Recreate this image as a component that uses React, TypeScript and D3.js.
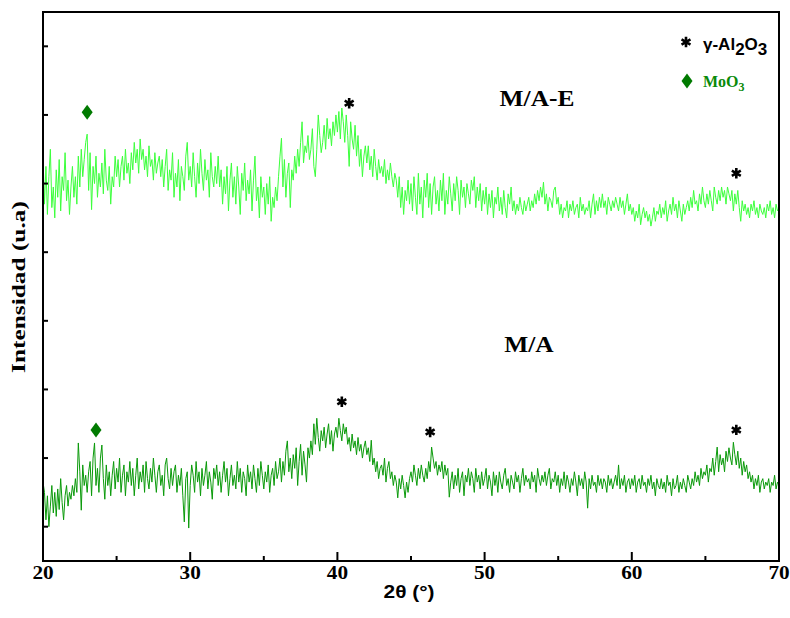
import React from "react";
import * as d3 from "d3";

// 2θ grid: 20.0 → 70.0 step 0.1
const thetaStart = 20;
const thetaStep = 0.1;

// M/A-E (upper trace), arbitrary intensity units
const maeValues: number[] = [
  590, 520, 575, 505, 560, 600, 515, 545, 500, 570,
  530, 585, 510, 560, 540, 595, 525, 555, 505, 545,
  575, 530, 560, 520, 590, 545, 600, 560, 585, 610,
  622, 540, 595, 512, 575, 550, 590, 530, 565, 545,
  580, 535, 600, 555, 540, 575, 520, 560, 545, 590,
  560, 585, 545, 575, 590, 555, 600, 565, 580, 550,
  595, 570, 610, 580, 600, 565, 615, 585, 600, 570,
  590, 560, 605, 575, 585, 555, 595, 565, 580, 590,
  560, 585, 545, 575, 600, 540, 570, 555, 595, 530,
  565, 545, 585, 525, 575, 560, 540, 590, 610, 555,
  575, 545, 595, 560, 530, 580, 550, 600, 565, 540,
  585, 555, 570, 530, 595, 560, 545, 575, 550, 590,
  545, 570, 520, 560, 535, 575, 510, 555, 580, 530,
  560, 520, 575, 545, 505, 565, 540, 580, 525, 555,
  535, 570, 510, 555, 590, 525, 545, 500, 560, 530,
  545, 505, 550, 520, 560, 495, 530, 515, 545, 525,
  560, 590, 616, 545, 585, 530, 565, 580, 515, 570,
  555, 590, 565, 600, 575, 610, 640, 580, 605, 595,
  620, 585, 600, 630, 575, 560, 600, 650, 620, 595,
  610, 635, 600, 645, 615, 630, 605, 640, 620, 650,
  625, 655, 615, 660, 640, 610, 650, 620, 575, 640,
  615, 600, 635, 590, 620, 575, 600, 560, 590, 605,
  580, 605, 570, 590, 560, 600, 575, 555, 585, 565,
  575, 560, 585, 550, 570, 555, 580, 560, 545, 565,
  555, 530, 560, 515, 545, 505, 540, 525, 555, 520,
  550, 510, 560, 530, 505, 565, 520, 545, 500, 555,
  530, 565, 515, 550, 505, 545, 560, 520, 540, 510,
  555, 525, 565, 505, 540, 520, 560, 535, 510, 550,
  525, 560, 540, 505, 555, 530, 545, 515, 550, 535,
  520, 555, 540, 560, 515, 545, 525, 550, 510, 540,
  520, 545, 505, 535, 515, 540, 500, 530, 520, 545,
  510, 530, 505, 540, 515, 500, 535, 520, 545, 510,
  525, 505, 520, 510, 530, 515, 505, 525, 510, 520,
  530, 510, 525, 515, 535, 520, 540, 525, 545, 530,
  552, 520, 535, 510, 530, 525, 515, 540, 545, 520,
  530, 505, 520, 500, 515, 510, 525, 500, 520, 510,
  525, 505, 515, 520, 500, 530, 510, 520, 505, 515,
  510, 525, 500, 520, 535, 505, 525, 510, 530, 515,
  535, 515, 525, 505, 530, 520, 510, 525, 515, 530,
  520, 510, 530, 515, 525, 505, 520, 535, 510, 520,
  505, 515, 495, 510, 500, 520, 490, 505, 515, 500,
  510, 495, 505, 488, 500, 515, 495, 510, 505, 520,
  500, 515, 505, 525, 495, 510, 520, 505, 530, 510,
  520, 500, 525, 510, 495, 520, 505, 515, 525, 510,
  530, 515, 540, 520, 525, 510, 535, 520, 545, 525,
  515, 535, 520, 540, 525, 510, 545, 530, 520, 540,
  525, 545, 530, 540, 520, 545, 535, 525, 540, 510,
  535, 520, 540, 515, 495, 525, 510, 520, 505, 515,
  500, 520, 510, 525, 505, 515, 500, 520, 510, 505,
  515, 500, 520, 510, 525, 505, 515, 500, 520, 510,
  515,
];

// M/A (lower trace)
const maValues: number[] = [
  115, 100, 60, 95, 50, 80, 110, 70, 100, 65,
  105, 75, 120, 85, 60, 95, 110, 80, 100, 90,
  110, 95, 120, 100, 172, 130, 74, 140, 110, 125,
  100, 130, 145, 95, 150, 172, 110, 135, 100, 150,
  169, 120, 90, 140, 110, 130, 95, 125, 145, 105,
  135, 115, 150, 100, 125, 140, 95, 130, 115, 145,
  110, 135, 95, 125, 150, 105, 130, 115, 140, 100,
  145, 120, 105, 135, 115, 150, 125, 100, 130, 140,
  110, 125, 95, 140, 150, 120, 105, 135, 110, 130,
  140, 100, 125, 110, 135, 95, 57, 120, 130, 48,
  110, 140, 125, 100, 145, 115, 130, 95, 135, 110,
  125, 145, 105, 130, 115, 90, 135, 120, 140, 110,
  130, 100, 125, 145, 115, 135, 95, 120, 140, 110,
  125, 105, 145, 115, 135, 100, 130, 120, 95, 140,
  115, 130, 105, 140, 120, 100, 135, 110, 145, 125,
  105, 130, 115, 140, 100, 125, 135, 110, 145, 120,
  130, 150, 115, 145, 125, 160, 175, 130, 150, 120,
  155, 135, 165, 110, 145, 170, 125, 160, 140, 115,
  165, 150, 175, 155, 200, 170, 208, 180, 160, 190,
  175, 195, 165, 185, 200, 170, 190, 160, 185, 195,
  180, 208, 190, 175, 200, 185, 195, 170, 180, 160,
  185, 165, 175, 155, 180, 160, 170, 150, 165, 175,
  155, 165, 145, 176, 140, 150, 130, 145, 120, 135,
  140, 125, 150, 115, 135, 145, 120, 130, 110, 125,
  115, 92, 120, 105, 125, 110, 92, 115, 100, 120,
  130, 115, 140, 125, 110, 135, 120, 140, 125, 115,
  135, 120, 145, 130, 166, 150, 135, 145, 125, 140,
  130, 145, 120, 140, 125, 135, 93, 115, 130, 105,
  125, 110, 135, 100, 120, 130, 95, 125, 115, 135,
  110, 130, 120, 100, 135, 115, 125, 105, 130, 110,
  120, 135, 105, 125, 115, 95, 130, 110, 125, 100,
  130, 115, 105, 125, 135, 110, 120, 100, 125, 115,
  105, 130, 115, 125, 100, 120, 135, 110, 125, 115,
  120, 105, 130, 115, 125, 100, 135, 120, 110, 125,
  115, 130, 110, 125, 135, 105, 120, 115, 130, 110,
  125, 100, 120, 110, 130, 105, 125, 115, 100, 120,
  110, 130, 115, 95, 125, 110, 120, 105, 130, 115,
  77, 120, 105, 125, 110, 115, 100, 125, 110, 120,
  105, 120, 115, 100, 125, 110, 120, 105, 115, 125,
  110, 140, 105, 120, 110, 125, 100, 115, 120, 105,
  120, 110, 125, 100, 115, 120, 105, 125, 110, 115,
  100, 120, 110, 125, 105, 115, 95, 120, 110, 105,
  120, 105, 115, 100, 125, 110, 115, 95, 120, 105,
  110, 125, 100, 115, 105, 120, 110, 100, 125, 115,
  105, 120, 110, 130, 115, 125, 110, 135, 120, 130,
  125, 140, 115, 135, 130, 150, 125, 145, 166, 130,
  155, 140, 150, 130, 160, 145, 165, 150, 140, 173,
  155, 140, 160, 135, 150, 125, 145, 130, 140, 120,
  130, 115, 125, 105, 120, 110, 125, 100, 115, 120,
  105, 115, 110, 120, 100, 115, 110, 125, 105, 115,
  110,
];

// Phase markers [2θ, intensity]
const maeStars: [number, number][] = [[40.8, 667], [67.1, 565]];
const maeDiamonds: [number, number][] = [[23.0, 654]];
const maStars: [number, number][] = [[40.3, 232], [46.3, 188], [67.1, 191]];
const maDiamonds: [number, number][] = [[23.6, 191]];

const xTicksMajor = [20, 30, 40, 50, 60, 70];
const xTicksMinor = [25, 35, 45, 55, 65];
const yTicks = [50, 150, 250, 350, 450, 550, 650, 750];

const W = 790;
const H = 618;
const M = { left: 43, right: 779, top: 12, bottom: 561 };

export default function App() {
  const x = d3.scaleLinear().domain([20, 70]).range([M.left, M.right]);
  const y = d3.scaleLinear().domain([0, 800]).range([M.bottom, M.top]);

  const line = d3
    .line<number>()
    .x((_, i) => x(thetaStart + i * thetaStep))
    .y((d) => y(d));

  const asterisk = d3.symbol(d3.symbolAsterisk, 75)();
  const diamondPath = (cx: number, cy: number) =>
    `M${cx},${cy - 7.5}L${cx + 5.5},${cy}L${cx},${cy + 7.5}L${cx - 5.5},${cy}Z`;

  const starEl = (px: number, py: number, key: string) => (
    <path key={key} d={asterisk!} transform={`translate(${px},${py})`} stroke="#000" strokeWidth={2.6} fill="none" />
  );

  return (
    <svg width={W} height={H} style={{ position: "absolute", left: 0, top: 0 }}>
      <rect x={0} y={0} width={W} height={H} fill="#fff" />
      <path d={line(maeValues)!} fill="none" stroke="#3cff3c" strokeWidth={1} />
      <path d={line(maValues)!} fill="none" stroke="#0a9a0a" strokeWidth={1} />

      {maeStars.concat(maStars).map((p, i) => starEl(x(p[0]), y(p[1]), "s" + i))}
      {maeDiamonds.concat(maDiamonds).map((p, i) => (
        <path key={"d" + i} d={diamondPath(x(p[0]), y(p[1]))} fill="#007a00" />
      ))}

      {/* frame */}
      <rect x={M.left} y={M.top} width={M.right - M.left} height={M.bottom - M.top} fill="none" stroke="#000" strokeWidth={2} />
      {xTicksMajor.map((t) => (
        <line key={"xm" + t} x1={x(t)} x2={x(t)} y1={M.bottom} y2={M.bottom - 9} stroke="#000" strokeWidth={2} />
      ))}
      {xTicksMinor.map((t) => (
        <line key={"xn" + t} x1={x(t)} x2={x(t)} y1={M.bottom} y2={M.bottom - 5} stroke="#000" strokeWidth={2} />
      ))}
      {yTicks.map((t) => (
        <line key={"y" + t} x1={M.left} x2={M.left + 5} y1={y(t)} y2={y(t)} stroke="#000" strokeWidth={2} />
      ))}
      {xTicksMajor.map((t) => (
        <text key={"xl" + t} transform={`translate(${x(t)},579) scale(1.18,1)`} textAnchor="middle" fontFamily="Liberation Serif" fontWeight="bold" fontSize={18}>
          {t}
        </text>
      ))}
      <text transform="translate(409,598) scale(1.1,1)" textAnchor="middle" fontFamily="Liberation Sans" fontWeight="bold" fontSize={19}>
        2θ (°)
      </text>
      <text transform="translate(25,287) rotate(-90) scale(1.3,1)" textAnchor="middle" fontFamily="Liberation Serif" fontWeight="bold" fontSize={19.5}>
        Intensidad (u.a)
      </text>

      <text transform="translate(537,106) scale(1.06,1)" textAnchor="middle" fontFamily="Liberation Serif" fontWeight="bold" fontSize={24}>
        M/A-E
      </text>
      <text transform="translate(529,352) scale(1.06,1)" textAnchor="middle" fontFamily="Liberation Serif" fontWeight="bold" fontSize={24}>
        M/A
      </text>

      {/* legend */}
      {starEl(686, 42, "ls")}
      <text x={703} y={50} fontFamily="Liberation Sans" fontWeight="bold" fontSize={17}>
        γ-Al<tspan dy={5}>2</tspan><tspan dy={-5}>O</tspan><tspan dy={5}>3</tspan>
      </text>
      <path d={diamondPath(687, 81)} fill="#007a00" />
      <text x={703} y={87} fontFamily="Liberation Serif" fontWeight="bold" fontSize={16} fill="#0a8a0a">
        MoO<tspan fontSize={12} dy={4}>3</tspan>
      </text>
    </svg>
  );
}
